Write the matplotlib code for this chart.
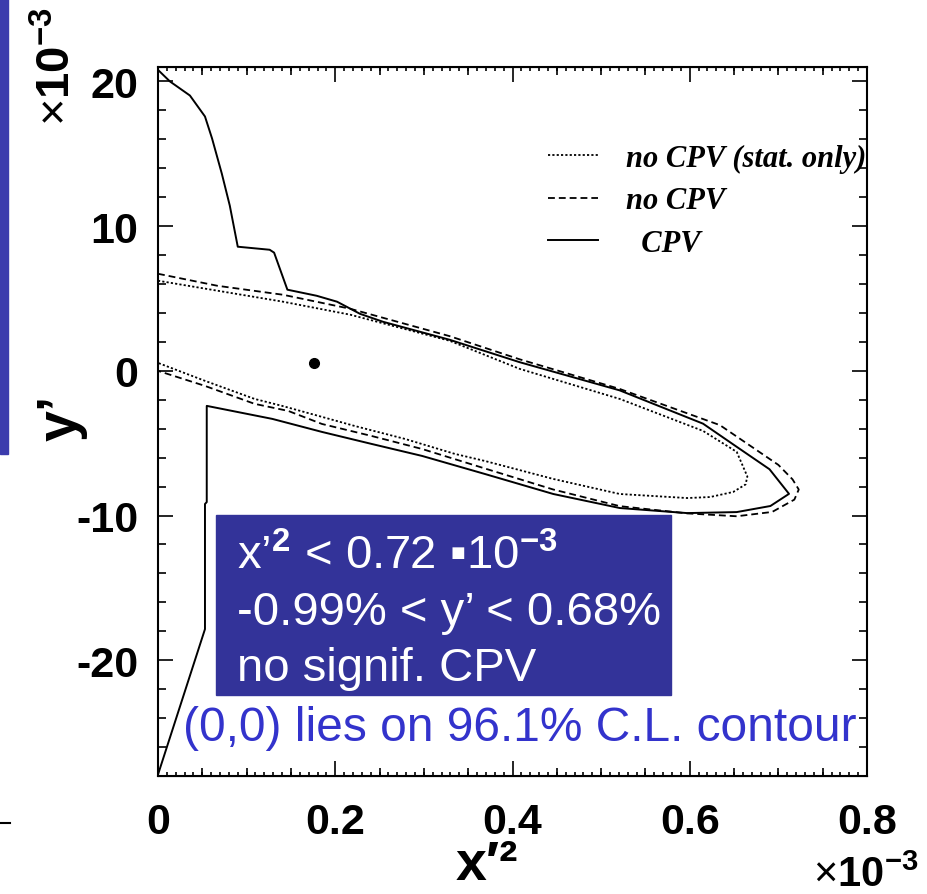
import numpy as np
import matplotlib
matplotlib.use('Agg')
import matplotlib.pyplot as plt
from matplotlib.ticker import MultipleLocator, NullFormatter
from matplotlib.patches import Rectangle
from matplotlib.lines import Line2D

plt.rcParams['font.family'] = ['Liberation Sans', 'DejaVu Sans']
plt.rcParams['mathtext.fontset'] = 'custom'
plt.rcParams['mathtext.rm'] = 'Liberation Sans'
plt.rcParams['mathtext.bf'] = 'Liberation Sans:bold'
plt.rcParams['mathtext.it'] = 'Liberation Sans:italic'
plt.rcParams['mathtext.fallback'] = 'stixsans'

# contours in the (x'^2, y') plane, both in units of 1e-3
cpv_x = [0.0, 0.0135, 0.036, 0.053, 0.061, 0.072, 0.081, 0.090, 0.126, 0.131,
         0.146, 0.179, 0.202, 0.228, 0.254, 0.329, 0.408, 0.521, 0.615, 0.653,
         0.690, 0.712, 0.691, 0.653, 0.597, 0.521, 0.446, 0.369, 0.298, 0.241,
         0.185, 0.129, 0.055, 0.055, 0.053, 0.053, 0.0]
cpv_y = [20.8, 20.0, 19.03, 17.58, 16.06, 13.63, 11.42, 8.58, 8.37, 8.17,
         5.61, 5.19, 4.78, 3.94, 3.39, 2.15, 0.6, -1.35, -3.65, -5.25,
         -6.8, -8.5, -9.34, -9.76, -9.83, -9.48, -8.51, -7.13, -5.88, -5.05,
         -4.22, -3.32, -2.42, -9.07, -9.2, -17.85, -27.9]

nocpv_x = [0.0, 0.067, 0.141, 0.217, 0.329, 0.408, 0.521, 0.634, 0.700, 0.716,
           0.723, 0.718, 0.693, 0.653, 0.597, 0.521, 0.446, 0.369, 0.298, 0.241,
           0.185, 0.147, 0.109, 0.053, 0.0]
nocpv_y = [6.71, 5.88, 5.26, 4.29, 2.4, 0.8, -1.25, -3.75, -6.5, -7.5,
           -8.2, -8.9, -9.75, -10.05, -9.85, -9.35, -8.2, -6.75, -5.40, -4.50,
           -3.67, -2.77, -2.28, -1.04, 0.0]

stat_x = [0.0, 0.067, 0.141, 0.217, 0.329, 0.408, 0.521, 0.615, 0.653, 0.665,
          0.663, 0.649, 0.623, 0.597, 0.521, 0.446, 0.369, 0.335, 0.279, 0.222,
          0.185, 0.140, 0.109, 0.053, 0.0]
stat_y = [6.23, 5.54, 4.78, 3.88, 2.08, 0.14, -1.94, -4.15, -5.6, -7.3,
          -7.85, -8.37, -8.72, -8.79, -8.51, -7.47, -6.23, -5.74, -4.71, -3.81,
          -3.18, -2.42, -1.94, -0.69, 0.55]

best_x = [0.176]
best_y = [0.55]

legend_labels = ['no CPV (stat. only)', 'no CPV', '  CPV']
x_ticks = [0, 0.2, 0.4, 0.6, 0.8]
x_tick_labels = ['0', '0.2', '0.4', '0.6', '0.8']
y_ticks = [-20, -10, 0, 10, 20]
y_tick_labels = ['-20', '-10', '0', '10', '20']
box_lines = [r"x’$^{\mathbf{2}}$ < 0.72 ▪10$^{\mathbf{-3}}$",
             "-0.99% < y’ < 0.68%",
             "no signif. CPV"]
note = "(0,0) lies on 96.1% C.L. contour"

W, H = 928, 895
fig = plt.figure(figsize=(W / 100, H / 100), dpi=100)
ax = fig.add_axes([158 / W, 1 - 777 / H, 709 / W, 709 / H])

l_stat, = ax.plot(stat_x, stat_y, color='k', lw=1.3, ls=(0, (1.2, 1.2)))
l_nocpv, = ax.plot(nocpv_x, nocpv_y, color='k', lw=1.3, ls=(0, (3.8, 2.2)))
l_cpv, = ax.plot(cpv_x, cpv_y, color='k', lw=1.4)
ax.plot(best_x, best_y, 'o', color='k', ms=7)

ax.set_xlim(0, 0.8)
ax.set_ylim(-28, 21)

ax.set_xticks(x_ticks, x_tick_labels, fontweight='bold')
ax.set_yticks(y_ticks, y_tick_labels, fontweight='bold')
ax.xaxis.set_minor_locator(MultipleLocator(0.01))
ax.yaxis.set_minor_locator(MultipleLocator(2))
ax.tick_params(which='both', direction='in', top=True, right=True, width=1.2)
ax.tick_params(which='major', length=11, labelsize=31)
ax.tick_params(axis='x', which='major', pad=19)
ax.tick_params(axis='y', which='major', pad=14)
ax.xaxis.set_tick_params(which='minor', length=3)
ax.yaxis.set_tick_params(which='minor', length=6)
for s in ax.spines.values():
    s.set_linewidth(1.5)

# medium ticks every 0.05
mid = [t for t in np.arange(0.05, 0.8, 0.05) if abs(t / 0.2 - round(t / 0.2)) > 1e-6]
for loc in ['bottom', 'top']:
    sec = ax.secondary_xaxis(loc)
    sec.set_xticks(mid)
    sec.xaxis.set_major_formatter(NullFormatter())
    sec.tick_params(direction='in', length=5.5, width=1.2)

ax.legend([l_stat, l_nocpv, l_cpv], legend_labels, loc='upper left',
          bbox_to_anchor=(0.55, 0.892), frameon=False,
          prop=dict(family='Liberation Serif', weight='bold', style='italic', size=22),
          handlelength=1.65, handletextpad=0.9, labelspacing=0.45,
          borderpad=0, borderaxespad=0)

# axis labels and exponent markers
fig.text(62 / W, 1 - 418 / H, "y’", rotation=90, fontsize=40, fontweight='bold',
         ha='center', va='center')
fig.text(487 / W, 1 - 866 / H, "x′²", fontsize=40, fontweight='bold',
         ha='center', va='center')
fig.text(58 / W, 1 - 66 / H, r"$\times\mathbf{10^{-3}}$", rotation=90, fontsize=34,
         ha='center', va='center')
fig.text(866 / W, 1 - 876 / H, r"$\times\mathbf{10^{-3}}$", fontsize=30,
         ha='center', va='center')

# info box
fig.add_artist(Rectangle((216 / W, 1 - 696 / H), 455 / W, 180 / H,
                         transform=fig.transFigure, color='#333399', zorder=5))
for i, line in enumerate(box_lines):
    fig.text(237 / W, 1 - (557 + 56 * i) / H, line, color='white', fontsize=34,
             ha='left', va='center', zorder=6)
fig.text(183 / W, 1 - 729 / H, note, color='#3333cc', fontsize=34.5,
         ha='left', va='center', zorder=6)

# slide decorations
fig.add_artist(Rectangle((0, 1 - 455 / H), 8 / W, 455 / H,
                         transform=fig.transFigure, color='#3c3cad'))
fig.add_artist(Line2D([0, 10 / W], [1 - 824 / H, 1 - 824 / H],
                      transform=fig.transFigure, color='k', lw=1.5))

fig.savefig('out.png', dpi=100)
